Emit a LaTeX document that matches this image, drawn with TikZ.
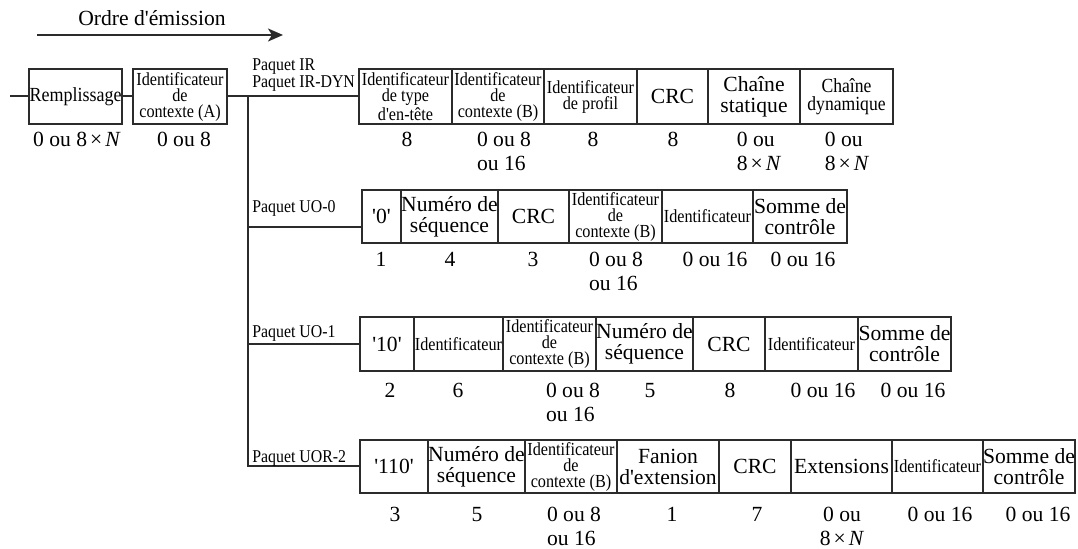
\documentclass[tikz,border=0pt]{standalone}
\usepackage{fontspec}
\setmainfont{Liberation Serif}[Ligatures=TeXOff]
\newfontfamily\smf{Liberation Serif}[FakeStretch=0.88,Ligatures=TeXOff]
\newfontfamily\cnd{Liberation Serif}[FakeStretch=0.9,Ligatures=TeXOff]
\usetikzlibrary{arrows.meta}
\definecolor{boxc}{HTML}{2B2B2B}
\newcommand\EN{8\kern1.5pt×\kern1.5pt\textit{N}}
\newcommand\fld[7]{\node[fld,#7,minimum width={(#3-#2)*0.5pt},minimum height={(#5-#4)*0.5pt}] (#1) at ({(#2+#3)/2},{(#4+#5)/2}) {#6};}
\tikzset{
  fld/.style={draw=boxc, line width=1pt, inner sep=0pt, align=center},
  big/.style={font=\fontsize{10.8}{10.5}\selectfont},
  sm/.style={font=\smf\fontsize{9.2}{8}\selectfont},
  lab/.style={anchor=base, inner sep=0pt, font=\fontsize{10.8}{12}\selectfont, align=left},
  labc/.style={lab, align=center},
  pk/.style={anchor=base west, inner sep=0pt, font=\smf\fontsize{9}{7.5}\selectfont, align=left},
  conn/.style={draw=boxc, line width=1pt},
}
\begin{document}
\begin{tikzpicture}[x=0.5pt,y=-0.5pt]
\useasboundingbox (0,0) rectangle (1078,549);
% emission order arrow
\node[anchor=base, inner sep=0pt, font=\fontsize{10.8}{12}\selectfont] (ordre) at (152,26) {Ordre d'émission};
\coordinate (aS) at (37,35);
\coordinate (aE) at (283,35);
\draw[conn, -{Stealth[length=7.5pt,width=6.5pt,inset=2pt]}] (aS) -- (aE);
% top
\fld{rem}{29}{122}{69}{124}{Remplissage}{font=\cnd\fontsize{10}{10}\selectfont}
\fld{ctxA}{133}{227}{69}{124}{Identificateur\\de\\contexte (A)}{sm}
% IR row
\fld{ir1}{359}{452}{69}{124}{Identificateur\\de type\\d'en-tête}{sm}
\fld{ir2}{452}{544}{69}{124}{Identificateur\\de\\contexte (B)}{sm}
\fld{ir3}{544}{637}{69}{124}{Identificateur\\de profil}{sm}
\fld{ir4}{637}{708}{69}{124}{CRC}{big}
\fld{ir5}{708}{800}{69}{124}{Chaîne\\statique}{big}
\fld{ir6}{800}{893}{69}{124}{Chaîne\\dynamique}{font=\smf\fontsize{10}{9}\selectfont}
% UO-0 row
\fld{u0a}{362}{401}{190}{243}{'0'}{big}
\fld{u0b}{401}{498}{190}{243}{Numéro de\\séquence}{big}
\fld{u0c}{498}{569}{190}{243}{CRC}{big}
\fld{u0d}{569}{662}{190}{243}{Identificateur\\de\\contexte (B)}{sm}
\fld{u0e}{662}{753}{190}{243}{Identificateur}{sm}
\fld{u0f}{753}{847}{190}{243}{Somme de\\contrôle}{big}
% UO-1 row
\fld{u1a}{360}{414}{317}{371}{'10'}{big}
\fld{u1b}{414}{503}{317}{371}{Identificateur}{sm}
\fld{u1c}{503}{596}{317}{371}{Identificateur\\de\\contexte (B)}{sm}
\fld{u1d}{596}{693}{317}{371}{Numéro de\\séquence}{big}
\fld{u1e}{693}{765}{317}{371}{CRC}{big}
\fld{u1f}{765}{858}{317}{371}{Identificateur}{sm}
\fld{u1g}{858}{951}{317}{371}{Somme de\\contrôle}{big}
% UOR-2 row
\fld{r2a}{360}{428}{440}{493}{'110'}{big}
\fld{r2b}{428}{525}{440}{493}{Numéro de\\séquence}{big}
\fld{r2c}{525}{617}{440}{493}{Identificateur\\de\\contexte (B)}{sm}
\fld{r2d}{617}{719}{440}{493}{Fanion\\d'extension}{big}
\fld{r2e}{719}{791}{440}{493}{CRC}{big}
\fld{r2f}{791}{892}{440}{493}{Extensions}{big}
\fld{r2g}{892}{983}{440}{493}{Identificateur}{sm}
\fld{r2h}{983}{1075}{440}{493}{Somme de\\contrôle}{big}
% connectors
\coordinate (stub) at (10,96.5);
\coordinate (tTop) at (248,96.5);
\coordinate (b0) at (248,227);
\draw[conn] (stub) -- (rem.west);
\draw[conn] (rem.east) -- (ctxA.west);
\draw[conn] (ctxA.east) -- (ir1.west);
\draw[conn] (tTop) |- (r2a.west);
\draw[conn] (b0) -- (b0 -| u0a.west);
\draw[conn] (u1a.west -| tTop) -- (u1a.west);
% packet labels (base = last line)
\node[pk] (pIR) at (252,88) {Paquet IR\\Paquet IR-DYN};
\node[pk] (pU0) at (252,213) {Paquet UO-0};
\node[pk] (pU1) at (252,338) {Paquet UO-1};
\node[pk] (pR2) at (252,463) {Paquet UOR-2};
% size labels (two-line labels: base = second line)
\node[lab] (sRem) at (77,147) {0 ou \EN};
\node[lab] (sCtxA) at (184,147) {0 ou 8};
\node[lab] (sI1) at (407,147) {8};
\node[lab] (sI2) at (504,171) {0 ou 8\\ou 16};
\node[lab] (sI3) at (593,147) {8};
\node[lab] (sI4) at (673,147) {8};
\node[lab] (sI5) at (759,171) {0 ou\\\EN};
\node[lab] (sI6) at (847,171) {0 ou\\\EN};
\node[lab] (s0a) at (381,267) {1};
\node[lab] (s0b) at (450,267) {4};
\node[lab] (s0c) at (533,267) {3};
\node[lab] (s0d) at (616,291) {0 ou 8\\ou 16};
\node[lab] (s0e) at (715,267) {0 ou 16};
\node[lab] (s0f) at (803,267) {0 ou 16};
\node[lab] (s1a) at (390,398) {2};
\node[lab] (s1b) at (458,398) {6};
\node[lab] (s1c) at (573,422) {0 ou 8\\ou 16};
\node[lab] (s1d) at (650,398) {5};
\node[lab] (s1e) at (730,398) {8};
\node[lab] (s1f) at (823,398) {0 ou 16};
\node[lab] (s1g) at (913,398) {0 ou 16};
\node[lab] (s2a) at (395,522) {3};
\node[lab] (s2b) at (477,522) {5};
\node[lab] (s2c) at (574,546) {0 ou 8\\ou 16};
\node[lab] (s2d) at (672,522) {1};
\node[lab] (s2e) at (757,522) {7};
\node[labc] (s2f) at (842,546) {0 ou\\\EN};
\node[lab] (s2g) at (940,522) {0 ou 16};
\node[lab] (s2h) at (1038,522) {0 ou 16};
\end{tikzpicture}
\end{document}
